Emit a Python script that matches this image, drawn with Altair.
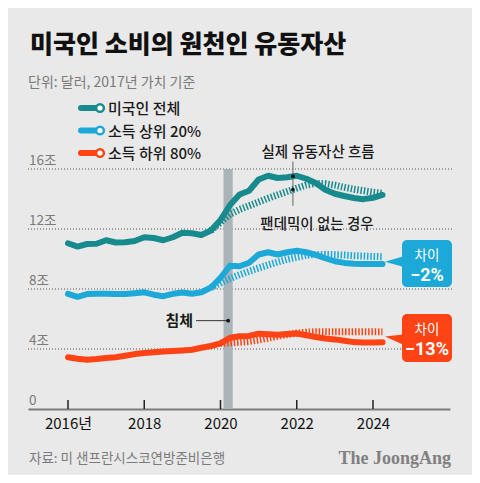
import altair as alt
import pandas as pd

# ---------------- data ----------------
quarters = [2016 + q * 0.25 for q in range(34)]  # 2016Q1 .. 2024Q2
total = [11.05, 10.83, 11.0, 11.02, 11.25, 11.1, 11.12, 11.2, 11.45, 11.4, 11.25, 11.45,
         11.75, 11.72, 11.6, 11.9, 12.6, 13.6, 14.3, 14.55, 15.3, 15.55, 15.4, 15.45,
         15.55, 15.35, 15.07, 14.62, 14.35, 14.2, 14.07, 13.99, 14.08, 14.27]
top20 = [7.68, 7.48, 7.66, 7.68, 7.68, 7.66, 7.66, 7.72, 7.78, 7.62, 7.52, 7.68,
         7.77, 7.68, 7.78, 8.1, 8.75, 9.55, 9.52, 9.75, 10.3, 10.45, 10.3, 10.45,
         10.55, 10.45, 10.27, 10.05, 9.85, 9.74, 9.68, 9.66, 9.66, 9.66]
bottom80 = [3.45, 3.35, 3.28, 3.33, 3.4, 3.45, 3.55, 3.66, 3.73, 3.78, 3.83, 3.86,
            3.9, 3.95, 4.08, 4.2, 4.38, 4.75, 4.85, 4.87, 5.02, 4.98, 4.95, 5.0,
            5.03, 4.92, 4.8, 4.7, 4.64, 4.55, 4.46, 4.43, 4.44, 4.45]
# "no pandemic" counterfactual paths
total_np = [11.9, 12.45, 12.98, 13.3, 13.55, 13.8, 14.05, 14.28, 14.5, 14.72,
            14.93, 15.04, 15.02, 14.92, 14.78, 14.65, 14.55, 14.45, 14.38]      # from 2019Q4
top20_np = [8.1, 8.4, 8.7, 8.95, 9.18, 9.4, 9.6, 9.8, 9.98, 10.12,
            10.25, 10.3, 10.31, 10.29, 10.26, 10.22, 10.2, 10.17, 10.15]        # from 2019Q4
bottom80_np = [4.38, 4.4, 4.45, 4.5, 4.6, 4.72, 4.85, 4.97, 5.06, 5.12,
               5.15, 5.15, 5.15, 5.15, 5.15, 5.15, 5.15, 5.15]                  # from 2020Q1

series_names = ["미국인 전체", "소득 상위 20%", "소득 하위 80%"]
series_colors = ["#168a8d", "#1ca9d8", "#ff4314"]

grid_values = [4, 8, 12, 16]
ylabel_values = [0, 4, 8, 12, 16]
ylabel_texts = ["0", "4조", "8조", "12조", "16조"]
xtick_years = [2016, 2018, 2020, 2022, 2024]
recession = [2020.08, 2020.32]

gaps = ["−2%", "−13%"]

# ---------------- tables ----------------
rows = []
for name, vals in zip(series_names, [total, top20, bottom80]):
    for t, v in zip(quarters, vals):
        rows.append({"t": t, "v": v, "s": name})
actual = pd.DataFrame(rows)

rows = []
for name, vals in zip(series_names, [total_np, top20_np, bottom80_np]):
    start = len(quarters) - len(vals)
    for t, v in zip(quarters[start:], vals):
        rows.append({"t": t, "v": v, "s": name})
nopan = pd.DataFrame(rows)

FONT = "Noto Sans CJK KR"
BG = "#e9e9e9"
W, H = 422, 240

xscale = alt.Scale(domain=[2014.951, 2026.02], nice=False, zero=False)
yscale = alt.Scale(domain=[0, 16], nice=False, zero=False)
cscale = alt.Scale(domain=series_names, range=series_colors)

xaxis = alt.Axis(
    values=xtick_years, format="d", ticks=False, grid=False,
    domainColor="#7a7a7a", domainWidth=2, labelFontSize=15, labelColor="#111",
    labelFont=FONT, labelPadding=7, labelFlush=False, labelOverlap=False,
    labelExpr="datum.value == 2016 ? '2016년' : datum.label", title=None)

X = alt.X("t:Q", scale=xscale, axis=xaxis)
Y = alt.Y("v:Q", scale=yscale, axis=None)

# inward tick marks on the x axis
xticks = alt.Chart(pd.DataFrame({"t": xtick_years})).mark_rule(color="#222", strokeWidth=1.5).encode(
    x=X, y=alt.value(231), y2=alt.value(240))

grid = alt.Chart(pd.DataFrame({"v": grid_values})).mark_rule(
    color="#555", strokeWidth=1, strokeDash=[1, 2]).encode(
    y=Y, x=alt.value(0), x2=alt.value(424))

ylabels = alt.Chart(pd.DataFrame({"v": ylabel_values, "lab": ylabel_texts})).mark_text(
    align="left", baseline="alphabetic", dy=-4, fontSize=13.5, color="#7a7a7a", font=FONT).encode(
    y=Y, x=alt.value(1), text="lab:N")

band = alt.Chart(pd.DataFrame({"t": [recession[0]], "t2": [recession[1]], "v": [16], "v2": [0]})).mark_rect(
    color="#a9b3b8").encode(x=X, x2="t2:Q", y=Y, y2="v2:Q")

dashed = alt.Chart(nopan).mark_line(strokeWidth=7, strokeDash=[1.5, 1.8], strokeCap="butt").encode(
    x=X, y=Y, color=alt.Color("s:N", scale=cscale, legend=None), detail="s:N")

solid = alt.Chart(actual).mark_line(strokeWidth=6, strokeCap="round", strokeJoin="round").encode(
    x=X, y=Y, color=alt.Color("s:N", scale=cscale, legend=None), detail="s:N")

# annotation: actual vs no-pandemic
ann_x = 2021.9
ann_line = alt.Chart(pd.DataFrame({"t": [ann_x], "v": [16.5], "v2": [13.55]})).mark_rule(
    color="#666", strokeWidth=1).encode(x=X, y=Y, y2="v2:Q")
ann_dots = alt.Chart(pd.DataFrame({"t": [ann_x, ann_x], "v": [15.52, 14.63]})).mark_point(
    filled=True, color="#111", size=14, opacity=1).encode(x=X, y=Y)
ann_txt = alt.Chart(pd.DataFrame({"t": [2022.56, 2022.53], "v": [16.82, 12.02],
                                  "lab": ["실제 유동자산 흐름", "팬데믹이 없는 경우"]})).mark_text(
    align="center", baseline="alphabetic", fontSize=14.5, color="#1a1a1a", font=FONT,
    fontWeight=500).encode(x=X, y=Y, text="lab:N")

# recession annotation
rec_line = alt.Chart(pd.DataFrame({"t": [2019.36], "t2": [2020.2], "v": [5.89]})).mark_rule(
    color="#333", strokeWidth=1).encode(x=X, x2="t2:Q", y=Y)
rec_dot = alt.Chart(pd.DataFrame({"t": [2020.2], "v": [5.89]})).mark_point(
    filled=True, color="#111", size=14, opacity=1).encode(x=X, y=Y)
rec_txt = alt.Chart(pd.DataFrame({"t": [2019.28], "v": [5.89], "lab": ["침체"]})).mark_text(
    align="right", baseline="middle", fontSize=15, fontWeight="bold", color="#1a1a1a",
    font=FONT).encode(x=X, y=Y, text="lab:N")

# callout boxes
def callout(color, y_top, y_bot, tip_y, shape, gap):
    d = pd.DataFrame({"a": [1]})
    box = alt.Chart(d).mark_rect(color=color, cornerRadius=5).encode(
        x=alt.value(374), x2=alt.value(424), y=alt.value(y_top), y2=alt.value(y_bot))
    ptr = alt.Chart(d).mark_point(shape=shape, filled=True, color=color, size=289, opacity=1).encode(
        x=alt.value(365.5), y=alt.value(tip_y))
    t1 = alt.Chart(pd.DataFrame({"lab": ["차이"]})).mark_text(
        align="center", baseline="alphabetic", fontSize=13.5, color="white", font=FONT).encode(
        x=alt.value(399), y=alt.value(y_top + 19.5), text="lab:N")
    t2 = alt.Chart(pd.DataFrame({"lab": [gap]})).mark_text(
        align="center", baseline="alphabetic", fontSize=18, fontWeight="bold", color="white",
        font="Roboto").encode(x=alt.value(399), y=alt.value(y_top + 41), text="lab:N")
    return [box, ptr, t1, t2]

blue_call = callout(series_colors[1], 71, 118, 92.7, "M -1 0 L 1.1 -0.6 L 1.1 0.6 Z", gaps[0])
red_call = callout(series_colors[2], 145, 193, 170.5, "M -1 -0.35 L 1.1 -0.6 L 1.1 0.6 Z", gaps[1])

# title / subtitle / footer
def txt(s, x, y, size, color, weight="normal", align="left", font=FONT):
    return alt.Chart(pd.DataFrame({"lab": [s]})).mark_text(
        align=align, baseline="alphabetic", fontSize=size, color=color, fontWeight=weight,
        font=font).encode(x=alt.value(x), y=alt.value(y), text="lab:N")

title = txt("미국인 소비의 원천인 유동자산", 2, -116, 25, "#111", weight=900)
subtitle = txt("단위: 달러, 2017년 가치 기준", 0, -82, 14, "#7a7a7a")
source = txt("자료: 미 샌프란시스코연방준비은행", 1, 294, 13.5, "#7a7a7a")
brand = txt("The JoongAng", 423, 295, 18, "#808080", weight="bold", align="right",
            font="Liberation Serif")

# legend
legend_layers = []
for name, color, ly in zip(series_names, series_colors, [-61, -38.5, -16]):
    d = pd.DataFrame({"lab": [name]})
    legend_layers.append(alt.Chart(d).mark_rule(color=color, strokeWidth=6, strokeCap="round").encode(
        x=alt.value(53), x2=alt.value(68), y=alt.value(ly)))
    legend_layers.append(alt.Chart(d).mark_point(color=color, fill="white", filled=False,
                                                 strokeWidth=2.5, size=60, opacity=1).encode(
        x=alt.value(72), y=alt.value(ly)))
    legend_layers.append(alt.Chart(d).mark_text(
        align="left", baseline="middle", fontSize=15, color="#1a1a1a", font=FONT,
        fontWeight=500).encode(x=alt.value(80), y=alt.value(ly + 1), text="lab:N"))

chart = alt.layer(
    grid, ylabels, band, xticks, dashed, solid,
    ann_line, ann_dots, ann_txt, rec_line, rec_dot, rec_txt,
    *blue_call, *red_call, title, subtitle, source, brand, *legend_layers
).properties(
    width=W, height=H,
    autosize=alt.AutoSizeParams(type="none"),
    padding={"left": 20, "top": 161, "right": 22, "bottom": 66},
    background=BG,
).configure_view(stroke=None)

chart.save("out.html", embed_options={"renderer": "svg", "actions": False})
